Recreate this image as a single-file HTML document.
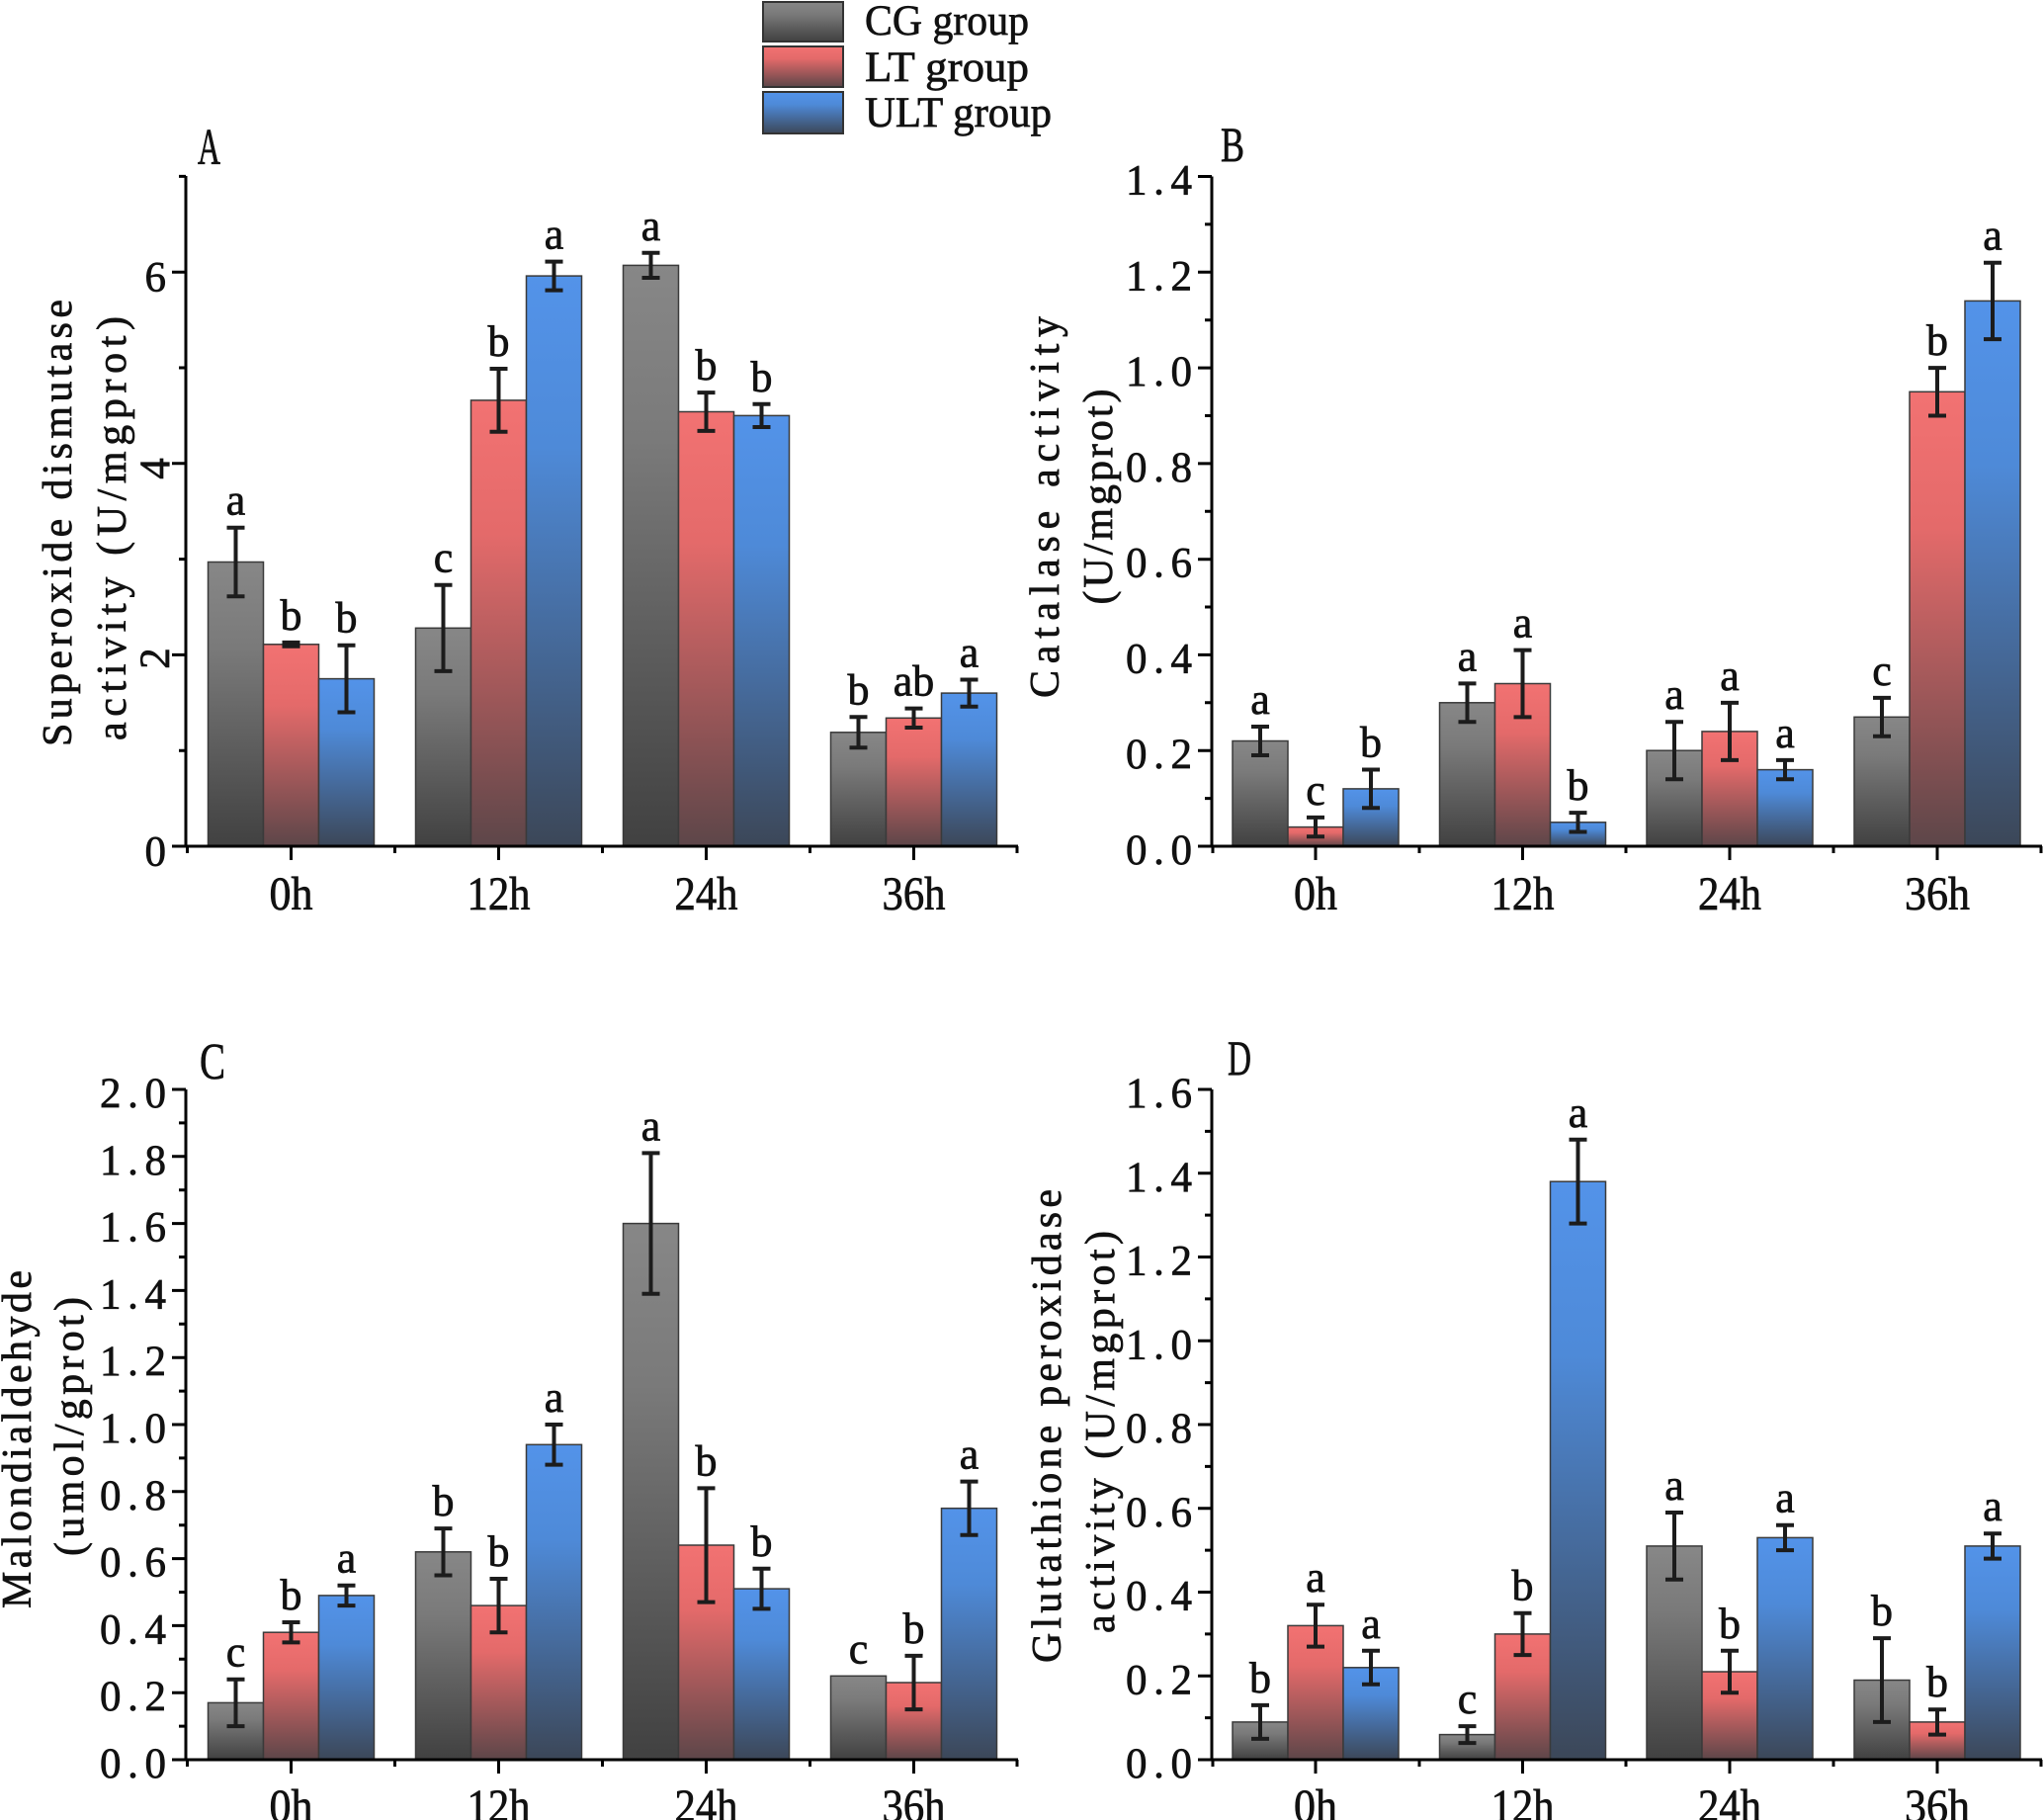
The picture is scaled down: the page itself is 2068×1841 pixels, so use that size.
<!DOCTYPE html>
<html><head><meta charset="utf-8"><style>html,body{margin:0;padding:0;background:#fff}svg{display:block}text{font-family:"Liberation Serif","Noto Serif CJK SC",serif;fill:#111;stroke:#111;stroke-width:0.7px}</style></head>
<body>
<svg width="2068" height="1841" viewBox="0 0 2068 1841" xmlns="http://www.w3.org/2000/svg">
<defs>
<linearGradient id="gC" x1="0" y1="0" x2="0" y2="1"><stop offset="0" stop-color="#878787"/><stop offset="0.3" stop-color="#7a7a7a"/><stop offset="1" stop-color="#414141"/></linearGradient>
<linearGradient id="gL" x1="0" y1="0" x2="0" y2="1"><stop offset="0" stop-color="#f27272"/><stop offset="0.3" stop-color="#e46a6a"/><stop offset="1" stop-color="#5d4649"/></linearGradient>
<linearGradient id="gU" x1="0" y1="0" x2="0" y2="1"><stop offset="0" stop-color="#5393e9"/><stop offset="0.3" stop-color="#4e8ad8"/><stop offset="1" stop-color="#3c4758"/></linearGradient>
</defs>

<!-- Legend -->
<g stroke="#333" stroke-width="2">
<rect x="772" y="2" width="81" height="40" fill="url(#gC)"/>
<rect x="772" y="47" width="81" height="41" fill="url(#gL)"/>
<rect x="772" y="93" width="81" height="42" fill="url(#gU)"/>
</g>
<text x="875" y="35" font-size="43" textLength="166" lengthAdjust="spacingAndGlyphs">CG group</text>
<text x="875" y="82" font-size="43" textLength="166" lengthAdjust="spacingAndGlyphs">LT group</text>
<text x="875" y="128" font-size="43" textLength="189" lengthAdjust="spacingAndGlyphs">ULT group</text>

<!-- Panel letters -->
<text x="200" y="166" font-size="52" textLength="23" lengthAdjust="spacingAndGlyphs">A</text>
<text x="1235" y="163" font-size="50" textLength="24" lengthAdjust="spacingAndGlyphs">B</text>
<text x="202" y="1091" font-size="52" textLength="26" lengthAdjust="spacingAndGlyphs">C</text>
<text x="1242" y="1087" font-size="50" textLength="24" lengthAdjust="spacingAndGlyphs">D</text>

<!-- Y axis titles -->
<g font-size="42" text-anchor="middle">
<text transform="translate(72 529) rotate(-90)" textLength="452" lengthAdjust="spacing">Superoxide dismutase</text>
<text transform="translate(127 534.5) rotate(-90)" textLength="429" lengthAdjust="spacing">activity (U/mgprot)</text>
<text transform="translate(1071 513) rotate(-90)" textLength="386" lengthAdjust="spacing">Catalase activity</text>
<text transform="translate(1125 502.5) rotate(-90)" textLength="218" lengthAdjust="spacing">(U/mgprot)</text>
<text transform="translate(31 1456) rotate(-90)" textLength="342" lengthAdjust="spacing">Malondialdehyde</text>
<text transform="translate(84 1443) rotate(-90)" textLength="262" lengthAdjust="spacing">(umol/gprot)</text>
<text transform="translate(1073 1442.5) rotate(-90)" textLength="479" lengthAdjust="spacing">Glutathione peroxidase</text>
<text transform="translate(1127 1448.5) rotate(-90)" textLength="407" lengthAdjust="spacing">activity (U/mgprot)</text>
</g>

<!-- Bars -->
<g stroke="#3a3a3a" stroke-width="1.5">
<!-- A -->
<rect x="210.5" y="568.5" width="56" height="287.5" fill="url(#gC)"/>
<rect x="266.5" y="651.8" width="56" height="204.2" fill="url(#gL)"/>
<rect x="322.5" y="686.6" width="56" height="169.4" fill="url(#gU)"/>
<rect x="420.5" y="635.3" width="56" height="220.7" fill="url(#gC)"/>
<rect x="476.5" y="404.9" width="56" height="451.1" fill="url(#gL)"/>
<rect x="532.5" y="279.1" width="56" height="576.9" fill="url(#gU)"/>
<rect x="630.5" y="268.4" width="56" height="587.6" fill="url(#gC)"/>
<rect x="686.5" y="416.5" width="56" height="439.5" fill="url(#gL)"/>
<rect x="742.5" y="420.4" width="56" height="435.6" fill="url(#gU)"/>
<rect x="840.5" y="740.8" width="56" height="115.2" fill="url(#gC)"/>
<rect x="896.5" y="726.3" width="56" height="129.7" fill="url(#gL)"/>
<rect x="952.5" y="701.1" width="56" height="154.9" fill="url(#gU)"/>
<!-- B -->
<rect x="1247" y="749.5" width="56" height="106.5" fill="url(#gC)"/>
<rect x="1303" y="836.6" width="56" height="19.4" fill="url(#gL)"/>
<rect x="1359" y="797.9" width="56" height="58.1" fill="url(#gU)"/>
<rect x="1456.5" y="710.8" width="56" height="145.2" fill="url(#gC)"/>
<rect x="1512.5" y="691.5" width="56" height="164.5" fill="url(#gL)"/>
<rect x="1568.5" y="831.8" width="56" height="24.2" fill="url(#gU)"/>
<rect x="1666" y="759.2" width="56" height="96.8" fill="url(#gC)"/>
<rect x="1722" y="739.9" width="56" height="116.1" fill="url(#gL)"/>
<rect x="1778" y="778.6" width="56" height="77.4" fill="url(#gU)"/>
<rect x="1876" y="725.3" width="56" height="130.7" fill="url(#gC)"/>
<rect x="1932" y="396.3" width="56" height="459.7" fill="url(#gL)"/>
<rect x="1988" y="304.4" width="56" height="551.6" fill="url(#gU)"/>
<!-- C -->
<rect x="210.5" y="1722.4" width="56" height="57.6" fill="url(#gC)"/>
<rect x="266.5" y="1651.2" width="56" height="128.8" fill="url(#gL)"/>
<rect x="322.5" y="1613.9" width="56" height="166.1" fill="url(#gU)"/>
<rect x="420.5" y="1569.8" width="56" height="210.2" fill="url(#gC)"/>
<rect x="476.5" y="1624.1" width="56" height="155.9" fill="url(#gL)"/>
<rect x="532.5" y="1461.3" width="56" height="318.7" fill="url(#gU)"/>
<rect x="630.5" y="1237.6" width="56" height="542.4" fill="url(#gC)"/>
<rect x="686.5" y="1563" width="56" height="217" fill="url(#gL)"/>
<rect x="742.5" y="1607.1" width="56" height="172.9" fill="url(#gU)"/>
<rect x="840.5" y="1695.3" width="56" height="84.7" fill="url(#gC)"/>
<rect x="896.5" y="1702" width="56" height="78" fill="url(#gL)"/>
<rect x="952.5" y="1525.7" width="56" height="254.3" fill="url(#gU)"/>
<!-- D -->
<rect x="1247" y="1741.9" width="56" height="38.1" fill="url(#gC)"/>
<rect x="1303" y="1644.4" width="56" height="135.6" fill="url(#gL)"/>
<rect x="1359" y="1686.8" width="56" height="93.2" fill="url(#gU)"/>
<rect x="1456.5" y="1754.6" width="56" height="25.4" fill="url(#gC)"/>
<rect x="1512.5" y="1652.9" width="56" height="127.1" fill="url(#gL)"/>
<rect x="1568.5" y="1195.2" width="56" height="584.8" fill="url(#gU)"/>
<rect x="1666" y="1563.9" width="56" height="216.1" fill="url(#gC)"/>
<rect x="1722" y="1691" width="56" height="89" fill="url(#gL)"/>
<rect x="1778" y="1555.4" width="56" height="224.6" fill="url(#gU)"/>
<rect x="1876" y="1699.5" width="56" height="80.5" fill="url(#gC)"/>
<rect x="1932" y="1741.9" width="56" height="38.1" fill="url(#gL)"/>
<rect x="1988" y="1563.9" width="56" height="216.1" fill="url(#gU)"/>
</g>

<!-- Error bars -->
<g fill="none" stroke="#1c1c1c" stroke-width="4">
<path d="M238.5 533.7V603.3M229.5 533.7h18M229.5 603.3h18
M294.5 649.9V653.7M285.5 649.9h18M285.5 653.7h18
M350.5 652.7V720.5M341.5 652.7h18M341.5 720.5h18
M448.5 591.7V678.9M439.5 591.7h18M439.5 678.9h18
M504.5 373V436.8M495.5 373h18M495.5 436.8h18
M560.5 264.6V293.6M551.5 264.6h18M551.5 293.6h18
M658.5 255.8V281M649.5 255.8h18M649.5 281h18
M714.5 397.1V435.9M705.5 397.1h18M705.5 435.9h18
M770.5 408.8V432M761.5 408.8h18M761.5 432h18
M868.5 725.3V756.3M859.5 725.3h18M859.5 756.3h18
M924.5 716.6V736M915.5 716.6h18M915.5 736h18
M980.5 687.5V714.7M971.5 687.5h18M971.5 714.7h18"/>
<path d="M1275 735V764M1266 735h18M1266 764h18
M1331 826.9V846.3M1322 826.9h18M1322 846.3h18
M1387 778.5V817.3M1378 778.5h18M1378 817.3h18
M1484.5 691.4V730.2M1475.5 691.4h18M1475.5 730.2h18
M1540.5 657.6V725.4M1531.5 657.6h18M1531.5 725.4h18
M1596.5 822.1V841.5M1587.5 822.1h18M1587.5 841.5h18
M1694 730.2V788.2M1685 730.2h18M1685 788.2h18
M1750 710.9V768.9M1741 710.9h18M1741 768.9h18
M1806 768.9V788.3M1797 768.9h18M1797 788.3h18
M1904 705.9V744.7M1895 705.9h18M1895 744.7h18
M1960 372.1V420.5M1951 372.1h18M1951 420.5h18
M2016 265.7V343.1M2007 265.7h18M2007 343.1h18"/>
<path d="M238.5 1698.7V1746.1M229.5 1698.7h18M229.5 1746.1h18
M294.5 1641V1661.4M285.5 1641h18M285.5 1661.4h18
M350.5 1603.7V1624.1M341.5 1603.7h18M341.5 1624.1h18
M448.5 1546.1V1593.5M439.5 1546.1h18M439.5 1593.5h18
M504.5 1597V1651.2M495.5 1597h18M495.5 1651.2h18
M560.5 1441V1481.6M551.5 1441h18M551.5 1481.6h18
M658.5 1166.4V1308.8M649.5 1166.4h18M649.5 1308.8h18
M714.5 1505.4V1620.6M705.5 1505.4h18M705.5 1620.6h18
M770.5 1586.8V1627.4M761.5 1586.8h18M761.5 1627.4h18
M924.5 1674.9V1729.1M915.5 1674.9h18M915.5 1729.1h18
M980.5 1498.6V1552.8M971.5 1498.6h18M971.5 1552.8h18"/>
<path d="M1275 1724.9V1758.9M1266 1724.9h18M1266 1758.9h18
M1331 1623.2V1665.6M1322 1623.2h18M1322 1665.6h18
M1387 1669.8V1703.8M1378 1669.8h18M1378 1703.8h18
M1484.5 1746.1V1763.1M1475.5 1746.1h18M1475.5 1763.1h18
M1540.5 1631.7V1674.1M1531.5 1631.7h18M1531.5 1674.1h18
M1596.5 1152.8V1237.6M1587.5 1152.8h18M1587.5 1237.6h18
M1694 1530V1597.8M1685 1530h18M1685 1597.8h18
M1750 1669.8V1712.2M1741 1669.8h18M1741 1712.2h18
M1806 1542.7V1568.1M1797 1542.7h18M1797 1568.1h18
M1904 1657.1V1741.9M1895 1657.1h18M1895 1741.9h18
M1960 1729.2V1754.6M1951 1729.2h18M1951 1754.6h18
M2016 1551.2V1576.6M2007 1551.2h18M2007 1576.6h18"/>
</g>

<!-- Axes -->
<g fill="none" stroke="#000" stroke-width="3">
<path d="M188 178V857.5M186.5 856H1030
M174 856H188M181 759.2H188M174 662.4H188M181 565.6H188M174 468.8H188M181 372H188M174 275.2H188M181 178.4H188
M294.5 856V870M504.5 856V870M714.5 856V870M924.5 856V870
M189.5 856V863M399.5 856V863M609.5 856V863M819.5 856V863M1029 856V863"/>
<path d="M1226 178.5V857.5M1224.5 856H2066
M1212 856H1226M1219 807.6H1226M1212 759.2H1226M1219 710.8H1226M1212 662.4H1226M1219 614H1226M1212 565.7H1226M1219 517.3H1226M1212 468.9H1226M1219 420.5H1226M1212 372.1H1226M1219 323.7H1226M1212 275.3H1226M1219 226.9H1226M1212 178.5H1226
M1331 856V870M1540.5 856V870M1750 856V870M1960 856V870
M1227 856V863M1436 856V863M1645 856V863M1855 856V863M2065 856V863"/>
<path d="M188 1102V1781.5M186.5 1780H1030
M174 1780H188M181 1746.1H188M174 1712.2H188M181 1678.3H188M174 1644.4H188M181 1610.5H188M174 1576.6H188M181 1542.7H188M174 1508.8H188M181 1474.9H188M174 1441H188M181 1407.1H188M174 1373.2H188M181 1339.3H188M174 1305.4H188M181 1271.5H188M174 1237.6H188M181 1203.7H188M174 1169.8H188M181 1135.9H188M174 1102H188
M294.5 1780V1794M504.5 1780V1794M714.5 1780V1794M924.5 1780V1794
M189.5 1780V1787M399.5 1780V1787M609.5 1780V1787M819.5 1780V1787M1029 1780V1787"/>
<path d="M1226 1102V1781.5M1224.5 1780H2066
M1212 1780H1226M1219 1737.6H1226M1212 1695.3H1226M1219 1652.9H1226M1212 1610.5H1226M1219 1568.1H1226M1212 1525.8H1226M1219 1483.4H1226M1212 1441H1226M1219 1398.6H1226M1212 1356.3H1226M1219 1313.9H1226M1212 1271.5H1226M1219 1229.1H1226M1212 1186.8H1226M1219 1144.4H1226M1212 1102H1226
M1331 1780V1794M1540.5 1780V1794M1750 1780V1794M1960 1780V1794
M1227 1780V1787M1436 1780V1787M1645 1780V1787M1855 1780V1787M2065 1780V1787"/>
</g>

<!-- Y tick labels -->
<g font-size="43" text-anchor="end">
<text x="168" y="875.5">0</text>
<text x="168" y="294.7">6</text>
<text x="1206" y="874" textLength="67" lengthAdjust="spacing">0.0</text>
<text x="1206" y="777.2" textLength="67" lengthAdjust="spacing">0.2</text>
<text x="1206" y="680.4" textLength="67" lengthAdjust="spacing">0.4</text>
<text x="1206" y="583.7" textLength="67" lengthAdjust="spacing">0.6</text>
<text x="1206" y="486.9" textLength="67" lengthAdjust="spacing">0.8</text>
<text x="1206" y="390.1" textLength="67" lengthAdjust="spacing">1.0</text>
<text x="1206" y="293.3" textLength="67" lengthAdjust="spacing">1.2</text>
<text x="1206" y="196.5" textLength="67" lengthAdjust="spacing">1.4</text>
<text x="168" y="1798" textLength="67" lengthAdjust="spacing">0.0</text>
<text x="168" y="1730.2" textLength="67" lengthAdjust="spacing">0.2</text>
<text x="168" y="1662.4" textLength="67" lengthAdjust="spacing">0.4</text>
<text x="168" y="1594.6" textLength="67" lengthAdjust="spacing">0.6</text>
<text x="168" y="1526.8" textLength="67" lengthAdjust="spacing">0.8</text>
<text x="168" y="1459" textLength="67" lengthAdjust="spacing">1.0</text>
<text x="168" y="1391.2" textLength="67" lengthAdjust="spacing">1.2</text>
<text x="168" y="1323.4" textLength="67" lengthAdjust="spacing">1.4</text>
<text x="168" y="1255.6" textLength="67" lengthAdjust="spacing">1.6</text>
<text x="168" y="1187.8" textLength="67" lengthAdjust="spacing">1.8</text>
<text x="168" y="1120" textLength="67" lengthAdjust="spacing">2.0</text>
<text x="1206" y="1798" textLength="67" lengthAdjust="spacing">0.0</text>
<text x="1206" y="1713.3" textLength="67" lengthAdjust="spacing">0.2</text>
<text x="1206" y="1628.5" textLength="67" lengthAdjust="spacing">0.4</text>
<text x="1206" y="1543.8" textLength="67" lengthAdjust="spacing">0.6</text>
<text x="1206" y="1459" textLength="67" lengthAdjust="spacing">0.8</text>
<text x="1206" y="1374.3" textLength="67" lengthAdjust="spacing">1.0</text>
<text x="1206" y="1289.5" textLength="67" lengthAdjust="spacing">1.2</text>
<text x="1206" y="1204.8" textLength="67" lengthAdjust="spacing">1.4</text>
<text x="1206" y="1120" textLength="67" lengthAdjust="spacing">1.6</text>
</g>
<g font-size="43" text-anchor="middle">
<text transform="translate(157 666) rotate(-90)" x="0" y="14">2</text>
<text transform="translate(157 474) rotate(-90)" x="0" y="14">4</text>
</g>

<!-- X tick labels -->
<g font-size="48" text-anchor="middle">
<text x="294.5" y="920" textLength="44" lengthAdjust="spacingAndGlyphs">0h</text>
<text x="504.5" y="920" textLength="64" lengthAdjust="spacingAndGlyphs">12h</text>
<text x="714.5" y="920" textLength="64" lengthAdjust="spacingAndGlyphs">24h</text>
<text x="924.5" y="920" textLength="64" lengthAdjust="spacingAndGlyphs">36h</text>
<text x="1331" y="920" textLength="44" lengthAdjust="spacingAndGlyphs">0h</text>
<text x="1540.5" y="920" textLength="64" lengthAdjust="spacingAndGlyphs">12h</text>
<text x="1750" y="920" textLength="64" lengthAdjust="spacingAndGlyphs">24h</text>
<text x="1960" y="920" textLength="66" lengthAdjust="spacingAndGlyphs">36h</text>
<text x="294.5" y="1843" textLength="44" lengthAdjust="spacingAndGlyphs">0h</text>
<text x="504.5" y="1843" textLength="64" lengthAdjust="spacingAndGlyphs">12h</text>
<text x="714.5" y="1843" textLength="64" lengthAdjust="spacingAndGlyphs">24h</text>
<text x="924.5" y="1843" textLength="64" lengthAdjust="spacingAndGlyphs">36h</text>
<text x="1331" y="1843" textLength="44" lengthAdjust="spacingAndGlyphs">0h</text>
<text x="1540.5" y="1843" textLength="64" lengthAdjust="spacingAndGlyphs">12h</text>
<text x="1750" y="1843" textLength="64" lengthAdjust="spacingAndGlyphs">24h</text>
<text x="1960" y="1843" textLength="66" lengthAdjust="spacingAndGlyphs">36h</text>
</g>

<!-- Significance letters -->
<g font-size="44" text-anchor="middle">
<text x="238.5" y="520.7">a</text><text x="294.5" y="636.9">b</text><text x="350.5" y="639.7">b</text>
<text x="448.5" y="578.7">c</text><text x="504.5" y="360">b</text><text x="560.5" y="251.6">a</text>
<text x="658.5" y="242.8">a</text><text x="714.5" y="384.1">b</text><text x="770.5" y="395.8">b</text>
<text x="868.5" y="712.3">b</text><text x="924.5" y="703.6">ab</text><text x="980.5" y="674.5">a</text>

<text x="1275" y="722">a</text><text x="1331" y="813.9">c</text><text x="1387" y="765.5">b</text>
<text x="1484.5" y="678.4">a</text><text x="1540.5" y="644.6">a</text><text x="1596.5" y="809.1">b</text>
<text x="1694" y="717.2">a</text><text x="1750" y="697.9">a</text><text x="1806" y="755.9">a</text>
<text x="1904" y="692.9">c</text><text x="1960" y="359.1">b</text><text x="2016" y="252.7">a</text>

<text x="238.5" y="1685.7">c</text><text x="294.5" y="1628">b</text><text x="350.5" y="1590.7">a</text>
<text x="448.5" y="1533.1">b</text><text x="504.5" y="1584">b</text><text x="560.5" y="1428">a</text>
<text x="658.5" y="1153.4">a</text><text x="714.5" y="1492.4">b</text><text x="770.5" y="1573.8">b</text>
<text x="868.5" y="1682.3">c</text><text x="924.5" y="1661.9">b</text><text x="980.5" y="1485.6">a</text>

<text x="1275" y="1711.9">b</text><text x="1331" y="1610.2">a</text><text x="1387" y="1656.8">a</text>
<text x="1484.5" y="1733.1">c</text><text x="1540.5" y="1618.7">b</text><text x="1596.5" y="1139.8">a</text>
<text x="1694" y="1517">a</text><text x="1750" y="1656.8">b</text><text x="1806" y="1529.7">a</text>
<text x="1904" y="1644.1">b</text><text x="1960" y="1716.2">b</text><text x="2016" y="1538.2">a</text>
</g>
</svg>
</body></html>
